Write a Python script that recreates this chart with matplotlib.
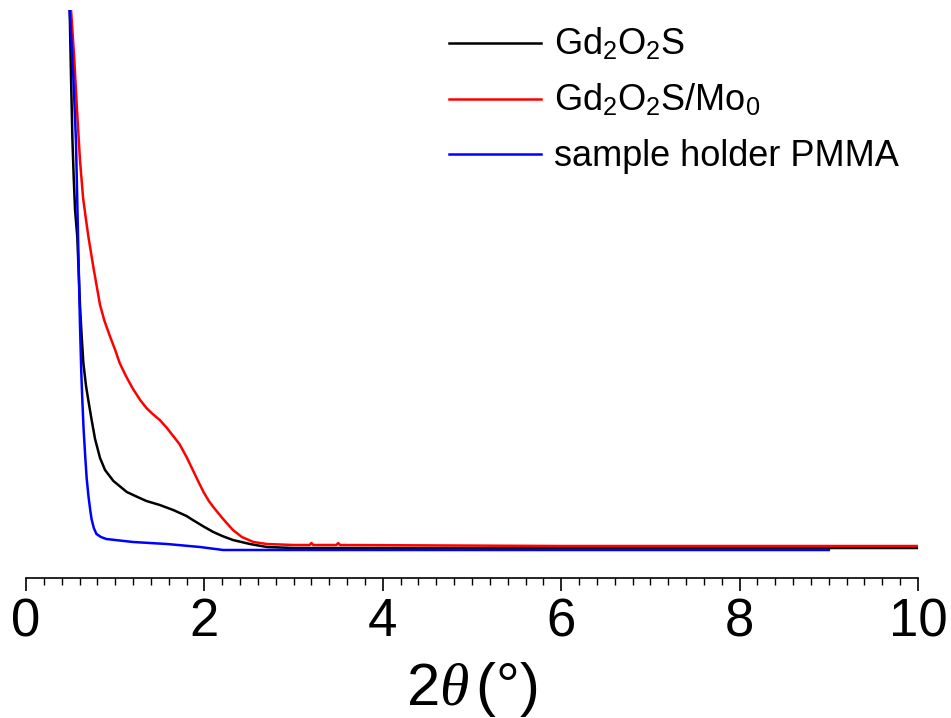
import numpy as np
import matplotlib
matplotlib.use('Agg')
import matplotlib.pyplot as plt
from matplotlib.ticker import MultipleLocator

plt.rcParams['font.family'] = ['Liberation Sans', 'DejaVu Sans']
plt.rcParams['mathtext.fontset'] = 'custom'
plt.rcParams['mathtext.rm'] = 'Liberation Sans'
plt.rcParams['mathtext.sf'] = 'Liberation Sans'
plt.rcParams['mathtext.it'] = 'Liberation Serif:italic'

# 2theta (deg) and intensity (a.u.)
tt_gd = [0.48, 0.49, 0.505, 0.52, 0.535, 0.55, 0.575, 0.605, 0.624, 0.643, 0.673,
         0.70, 0.736, 0.774, 0.83, 0.886, 0.98, 1.13, 1.25, 1.35, 1.50, 1.65,
         1.80, 1.87, 2.00, 2.10, 2.20, 2.32, 2.51, 2.70, 3.0, 5.0, 7.0, 10.0]
int_gd = [600, 567, 500, 440, 400, 368, 341, 273, 242, 215, 192,
          177, 158, 139, 120, 108, 97, 86, 81, 77, 73, 68,
          62, 58, 51, 46, 42, 38, 34, 31, 30, 30, 30, 30]

tt_mo = [0.48, 0.51, 0.54, 0.57, 0.605, 0.64, 0.67, 0.70, 0.755, 0.83, 0.88, 0.94,
         1.00, 1.05, 1.12, 1.20, 1.28, 1.35, 1.42, 1.50, 1.58, 1.65, 1.72, 1.80,
         1.87, 1.94, 1.99, 2.05, 2.10, 2.20, 2.32, 2.42, 2.55, 2.70, 3.0, 3.18,
         3.2, 3.22, 3.48, 3.5, 3.52, 6.0, 8.0, 10.0]
int_mo = [600, 561, 521, 471, 418, 380, 360, 341, 311, 273, 257, 242,
          228, 215, 202, 189, 178, 170, 164, 158, 150, 142, 134, 121,
          108, 95, 86, 77, 71, 60, 48, 41, 36, 34, 33, 33,
          35, 33, 33, 35, 33, 32, 32, 32]

tt_pmma = [0.48, 0.49, 0.51, 0.53, 0.545, 0.56, 0.575, 0.59, 0.605, 0.62, 0.63,
           0.645, 0.665, 0.68, 0.70, 0.72, 0.735, 0.76, 0.79, 0.84, 0.90, 1.0,
           1.2, 1.58, 1.95, 2.21, 4.0, 6.0, 9.0]
int_pmma = [600, 567, 535, 502, 470, 437, 376, 315, 254, 205, 181,
            150, 120, 100, 82, 68, 59, 50, 44, 41, 39, 38,
            36, 34, 31, 28, 28, 28, 28]

labels = [r'Gd$_2$O$_2$S', r'Gd$_2$O$_2$S/Mo$_0$', 'sample holder PMMA']
colors = ['black', 'red', 'blue']

fig = plt.figure(figsize=(9.51, 7.18), dpi=100)
ax = fig.add_axes([26 / 951, 140 / 718, 892 / 951, 568 / 718])

ax.plot(tt_gd, int_gd, color=colors[0], lw=1.8, label=labels[0])
ax.plot(tt_mo, int_mo, color=colors[1], lw=1.8, label=labels[1])
ax.plot(tt_pmma, int_pmma, color=colors[2], lw=1.8, label=labels[2])

ax.set_xlim(0, 10)
ax.set_ylim(0, 568)
for s in ['left', 'right', 'top']:
    ax.spines[s].set_visible(False)
ax.spines['bottom'].set_linewidth(1.2)
ax.set_yticks([])
ax.xaxis.set_major_locator(MultipleLocator(2))
ax.xaxis.set_minor_locator(MultipleLocator(0.2))
ax.tick_params(axis='x', which='major', direction='out', length=9, width=1.2,
               labelsize=38, pad=5)
ax.tick_params(axis='x', which='minor', direction='out', length=5, width=1)
ax.set_xlabel(r'2$\mathit{\theta}$$\,$(°)', fontsize=43, labelpad=9)

ax.legend(loc='upper left', bbox_to_anchor=(0.458, 0.995), frameon=False,
          fontsize=26, handlelength=2.55, handletextpad=0.35, labelspacing=0.55,
          borderaxespad=0)

fig.savefig('out.png', dpi=100)
